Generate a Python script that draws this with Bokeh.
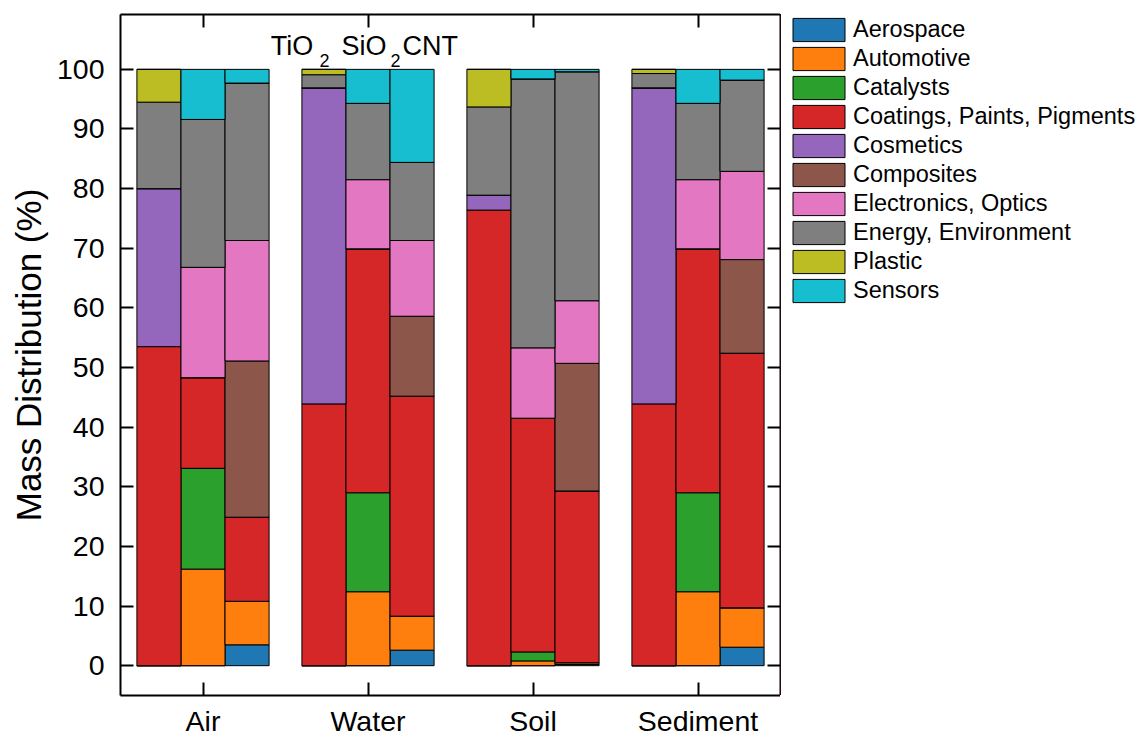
from bokeh.plotting import figure
from bokeh.layouts import row
from bokeh.models import (ColumnDataSource, FixedTicker, LinearAxis, Legend,
                          LegendItem, Range1d)
from bokeh.core.properties import value
from bokeh.embed import file_html
from bokeh.resources import INLINE

# ---------------- data ----------------
media = ["Air", "Water", "Soil", "Sediment"]
materials = ["TiO2", "SiO2", "CNT"]
sectors = ["Aerospace", "Automotive", "Catalysts", "Coatings, Paints, Pigments",
           "Cosmetics", "Composites", "Electronics, Optics",
           "Energy, Environment", "Plastic", "Sensors"]
colors = ["#1f77b4", "#ff7f0e", "#2ca02c", "#d62728", "#9467bd",
          "#8c564b", "#e377c2", "#7f7f7f", "#bcbd22", "#17becf"]

# order: Air(TiO2,SiO2,CNT), Water(...), Soil(...), Sediment(...)
aerospace   = [0, 0, 3.5,     0, 0, 2.6,     0, 0, 0.2,     0, 0, 3.1]
automotive  = [0, 16.2, 7.3,  0, 12.4, 5.7,  0, 0.8, 0.3,   0, 12.4, 6.6]
catalysts   = [0, 16.9, 0,    0, 16.6, 0,    0, 1.5, 0,     0, 16.6, 0]
coatings    = [53.5, 15.2, 14.1, 43.9, 40.9, 36.9, 76.4, 39.2, 28.8, 43.9, 40.9, 42.7]
cosmetics   = [26.5, 0, 0,    53.0, 0, 0,    2.5, 0, 0,     53.0, 0, 0]
composites  = [0, 0, 26.2,    0, 0, 13.4,    0, 0, 21.4,    0, 0, 15.7]
electronics = [0, 18.5, 20.2, 0, 11.6, 12.7, 0, 11.8, 10.5, 0, 11.6, 14.8]
energy      = [14.5, 24.8, 26.4, 2.2, 12.8, 13.1, 14.8, 45.1, 38.4, 2.4, 12.8, 15.3]
plastic     = [5.5, 0, 0,     0.9, 0, 0,     6.3, 0, 0,     0.7, 0, 0]
sensors     = [0, 8.4, 2.3,   0, 5.7, 15.6,  0, 1.6, 0.4,   0, 5.7, 1.8]

y_ticks = list(range(0, 101, 10))

# ---------------- build ----------------
series = [aerospace, automotive, catalysts, coatings, cosmetics, composites,
          electronics, energy, plastic, sensors]
keys = ["s%d" % i for i in range(len(sectors))]

group_centers = list(range(1, len(media) + 1))
bar_width = 0.267
offsets = [(i - (len(materials) - 1) / 2) * bar_width for i in range(len(materials))]
xs = [g + o for g in group_centers for o in offsets]

data = {"x": xs}
for k, s in zip(keys, series):
    data[k] = s
source = ColumnDataSource(data)

FONT = "Liberation Sans"

p = figure(frame_width=660, frame_height=681, x_range=Range1d(0.5, 4.5),
           y_range=Range1d(-5, 109.2), output_backend="svg",
           toolbar_location=None, min_border_left=120, min_border_right=0,
           min_border_top=14, min_border_bottom=43)
p.background_fill_color = "white"
p.border_fill_color = "white"
p.outline_line_color = None
p.xgrid.visible = False
p.ygrid.visible = False

p.vbar_stack(keys, x="x", width=bar_width, fill_color=colors,
             line_color="black", line_width=1, source=source)

# axes
def style_axis(ax, ticks=None):
    ax.axis_line_width = 2
    ax.axis_line_color = "black"
    ax.major_tick_line_width = 2
    ax.major_tick_line_color = "black"
    ax.major_tick_in = 13
    ax.major_tick_out = 0
    ax.minor_tick_in = 0
    ax.minor_tick_out = 0
    ax.major_label_text_font = FONT
    ax.major_label_text_color = "black"
    if ticks is not None:
        ax.major_label_overrides = {t: "" for t in ticks}
        ax.major_label_standoff = 0
        ax.major_label_text_font_size = "1px"

xa = p.xaxis[0]
xa.ticker = FixedTicker(ticks=group_centers)
xa.major_label_overrides = {g: m for g, m in zip(group_centers, media)}
style_axis(xa)
xa.major_label_text_font_size = "28.5px"
xa.major_label_standoff = 9

ya = p.yaxis[0]
ya.ticker = FixedTicker(ticks=y_ticks)
style_axis(ya)
ya.major_label_text_font_size = "28.5px"
ya.major_label_standoff = 16
ya.axis_label = "Mass Distribution (%)"
ya.axis_label_text_font = FONT
ya.axis_label_text_font_size = "35px"
ya.axis_label_text_font_style = "normal"
ya.axis_label_text_color = "black"
ya.axis_label_standoff = 6

ra = LinearAxis(ticker=FixedTicker(ticks=y_ticks))
style_axis(ra, ticks=y_ticks)
p.add_layout(ra, "right")

ta = LinearAxis(ticker=FixedTicker(ticks=group_centers))
style_axis(ta, ticks=group_centers)
p.add_layout(ta, "above")

# material labels above the Water group
p.text(x=[1.411, 1.839, 2.209], y=[103.9, 103.9, 103.9], text=["TiO", "SiO", "CNT"],
       text_font=value(FONT), text_font_size="27px", text_baseline="alphabetic",
       text_align="left", text_color="black")
p.text(x=[1.706, 2.136], y=[101.5, 101.5], text=["2", "2"],
       text_font=value(FONT), text_font_size="18px", text_baseline="alphabetic",
       text_align="left", text_color="black")

# ---------------- legend panel (separate figure, no axes) ----------------
lg = figure(width=360, height=738, x_range=Range1d(100, 101),
            y_range=Range1d(0, 1), output_backend="svg", toolbar_location=None,
            x_axis_location=None, y_axis_location=None,
            min_border=0, min_border_left=0, min_border_right=0,
            min_border_top=0, min_border_bottom=0)
lg.outline_line_color = None
lg.xgrid.visible = False
lg.ygrid.visible = False
lg.background_fill_color = "white"
lg.border_fill_color = "white"
leg_renderers = lg.vbar_stack(keys, x="x", width=bar_width, fill_color=colors,
                              line_color="black", line_width=1, source=source)

items = [LegendItem(label=s, renderers=[r]) for s, r in zip(sectors, leg_renderers)]
legend = Legend(items=items, location=(6, 389), padding=0, margin=0,
                spacing=0, glyph_width=65, glyph_height=29, label_height=25,
                label_standoff=2, label_text_font=FONT,
                label_text_font_size="23.5px", label_text_color="black",
                border_line_alpha=0, background_fill_alpha=0)
lg.add_layout(legend, "center")

layout = row(p, lg, spacing=0)
open("out.html", "w").write(file_html(layout, INLINE))
